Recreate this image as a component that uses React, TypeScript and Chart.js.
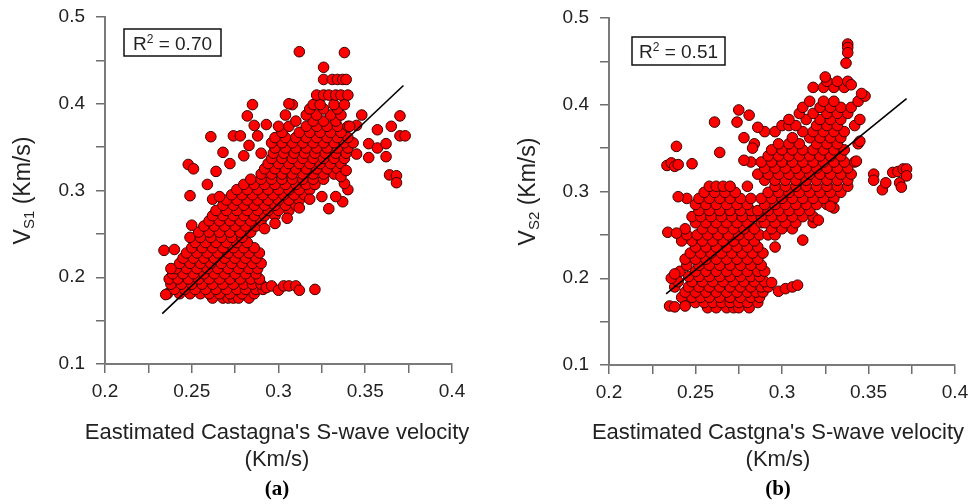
import React, { useEffect, useRef } from 'react';
import { Chart, registerables } from 'chart.js';
Chart.register(...registerables);

type Row = [number, number[]];
type Pt = [number, number];

// ---------------- Panel (a) data ----------------
const aDenseRows: Row[] = [
  [0.176, [0.262, 0.268, 0.271, 0.274, 0.277, 0.283]],
  [0.181, [0.236, 0.243, 0.249, 0.255, 0.26, 0.266, 0.272, 0.279, 0.286]],
  [0.186, [0.24, 0.246, 0.252, 0.258, 0.264, 0.27, 0.276, 0.281, 0.287, 0.291]],
  [0.192, [0.238, 0.244, 0.25, 0.256, 0.262, 0.268, 0.274, 0.28, 0.285, 0.29]],
  [0.198, [0.237, 0.242, 0.248, 0.254, 0.26, 0.266, 0.272, 0.278, 0.284, 0.289]],
  [0.204, [0.239, 0.245, 0.251, 0.257, 0.263, 0.269, 0.275, 0.281, 0.287]],
  [0.21, [0.241, 0.247, 0.253, 0.259, 0.265, 0.271, 0.277, 0.283, 0.288]],
  [0.216, [0.243, 0.249, 0.255, 0.261, 0.267, 0.273, 0.279, 0.285, 0.29]],
  [0.222, [0.245, 0.251, 0.257, 0.263, 0.269, 0.275, 0.281, 0.287]],
  [0.228, [0.247, 0.253, 0.259, 0.265, 0.271, 0.277, 0.283, 0.289]],
  [0.234, [0.25, 0.256, 0.262, 0.268, 0.274, 0.28, 0.286]],
  [0.24, [0.252, 0.258, 0.264, 0.27, 0.276, 0.282]],
  [0.246, [0.249, 0.255, 0.261, 0.267, 0.273, 0.279]],
  [0.252, [0.254, 0.26, 0.266, 0.272, 0.278, 0.284]],
  [0.259, [0.257, 0.263, 0.269, 0.275, 0.281, 0.287]],
  [0.265, [0.26, 0.266, 0.272, 0.278, 0.284, 0.29]],
  [0.271, [0.262, 0.268, 0.274, 0.28, 0.286, 0.292, 0.298]],
  [0.277, [0.264, 0.27, 0.276, 0.282, 0.288, 0.294, 0.3, 0.306]],
  [0.283, [0.268, 0.274, 0.28, 0.286, 0.292, 0.298, 0.304, 0.31]],
  [0.289, [0.27, 0.276, 0.282, 0.288, 0.294, 0.3, 0.306, 0.312]],
  [0.295, [0.273, 0.279, 0.285, 0.291, 0.297, 0.303, 0.309, 0.315]],
  [0.301, [0.276, 0.282, 0.288, 0.294, 0.3, 0.306, 0.312, 0.318]],
  [0.307, [0.28, 0.286, 0.292, 0.298, 0.304, 0.31, 0.316, 0.321]],
  [0.313, [0.284, 0.29, 0.296, 0.302, 0.308, 0.314, 0.32, 0.326]],
  [0.319, [0.29, 0.296, 0.302, 0.308, 0.314, 0.32, 0.326, 0.332]],
  [0.325, [0.292, 0.298, 0.304, 0.31, 0.316, 0.322, 0.328, 0.334]],
  [0.331, [0.294, 0.3, 0.306, 0.312, 0.318, 0.324, 0.33, 0.336]],
  [0.337, [0.296, 0.302, 0.308, 0.314, 0.32, 0.326, 0.332, 0.338]],
  [0.343, [0.297, 0.303, 0.309, 0.315, 0.321, 0.327, 0.333, 0.339]],
  [0.349, [0.298, 0.304, 0.31, 0.316, 0.322, 0.328, 0.334, 0.34]],
  [0.355, [0.296, 0.302, 0.308, 0.314, 0.32, 0.326, 0.332, 0.338, 0.343]],
  [0.361, [0.298, 0.304, 0.31, 0.316, 0.322, 0.328, 0.334, 0.34]],
  [0.367, [0.302, 0.312, 0.318, 0.324, 0.33, 0.336]],
  [0.374, [0.3, 0.306, 0.316, 0.322, 0.328, 0.334, 0.34]],
  [0.38, [0.31, 0.32, 0.326, 0.333]],
  [0.387, [0.304, 0.316, 0.322, 0.33, 0.336]],
  [0.394, [0.318, 0.326, 0.334]],
  [0.399, [0.308, 0.32, 0.324, 0.332, 0.338]],
  [0.41, [0.322, 0.326, 0.329, 0.333, 0.336, 0.34]],
  [0.428, [0.326, 0.331, 0.334, 0.337, 0.339]],
];
const aOutliers: Pt[] = [
  [0.312, 0.46], [0.338, 0.459], [0.326, 0.442],
  [0.285, 0.399], [0.306, 0.4], [0.282, 0.386], [0.286, 0.375], [0.293, 0.376], [0.288, 0.363],
  [0.261, 0.362], [0.274, 0.363], [0.278, 0.363],
  [0.248, 0.33], [0.251, 0.325], [0.264, 0.322], [0.249, 0.294], [0.259, 0.307], [0.262, 0.29],
  [0.266, 0.293], [0.268, 0.344], [0.272, 0.331], [0.28, 0.34], [0.283, 0.352], [0.29, 0.343],
  [0.348, 0.387], [0.357, 0.37], [0.365, 0.374], [0.37, 0.386], [0.37, 0.363], [0.373, 0.363],
  [0.352, 0.354], [0.352, 0.338], [0.357, 0.349], [0.362, 0.354], [0.362, 0.339], [0.364, 0.318],
  [0.368, 0.317], [0.368, 0.309], [0.345, 0.342], [0.345, 0.375], [0.341, 0.374],
  [0.329, 0.279], [0.325, 0.293], [0.337, 0.287], [0.333, 0.293], [0.34, 0.301], [0.338, 0.308],
  [0.336, 0.316], [0.339, 0.323],
  [0.312, 0.28], [0.318, 0.29], [0.305, 0.268], [0.298, 0.262], [0.292, 0.256],
  [0.293, 0.188], [0.296, 0.19], [0.3, 0.185], [0.303, 0.19], [0.306, 0.19], [0.31, 0.19],
  [0.312, 0.185], [0.321, 0.186],
  [0.234, 0.231], [0.24, 0.232], [0.235, 0.18], [0.238, 0.21], [0.25, 0.26],
];
const aFit: Pt[] = [[0.233, 0.158], [0.372, 0.421]];

// ---------------- Panel (b) data ----------------
const bDenseRows: Row[] = [
  [0.166, [0.257, 0.262, 0.268, 0.272, 0.275, 0.281]],
  [0.172, [0.245, 0.25, 0.255, 0.26, 0.265, 0.27, 0.275, 0.28, 0.286]],
  [0.178, [0.242, 0.248, 0.253, 0.258, 0.264, 0.27, 0.276, 0.282, 0.287]],
  [0.184, [0.244, 0.25, 0.256, 0.262, 0.268, 0.274, 0.28, 0.285, 0.289]],
  [0.19, [0.238, 0.246, 0.252, 0.258, 0.264, 0.27, 0.276, 0.282, 0.288, 0.292]],
  [0.196, [0.24, 0.248, 0.254, 0.26, 0.266, 0.272, 0.278, 0.284, 0.29]],
  [0.202, [0.246, 0.252, 0.258, 0.264, 0.27, 0.276, 0.282, 0.287]],
  [0.208, [0.241, 0.25, 0.256, 0.262, 0.268, 0.274, 0.28, 0.286, 0.29]],
  [0.215, [0.245, 0.252, 0.258, 0.264, 0.27, 0.276, 0.282, 0.288]],
  [0.222, [0.244, 0.25, 0.256, 0.262, 0.268, 0.274, 0.28, 0.286]],
  [0.229, [0.247, 0.253, 0.259, 0.265, 0.271, 0.277, 0.283, 0.289]],
  [0.236, [0.25, 0.256, 0.262, 0.268, 0.274, 0.28, 0.286]],
  [0.243, [0.242, 0.248, 0.254, 0.26, 0.266, 0.272, 0.278, 0.284]],
  [0.25, [0.245, 0.251, 0.257, 0.263, 0.269, 0.275, 0.281, 0.287]],
  [0.257, [0.244, 0.254, 0.26, 0.266, 0.272, 0.278, 0.284]],
  [0.264, [0.25, 0.256, 0.262, 0.268, 0.274, 0.28, 0.288]],
  [0.271, [0.248, 0.253, 0.259, 0.265, 0.271, 0.277, 0.283]],
  [0.278, [0.252, 0.258, 0.264, 0.27, 0.276, 0.282]],
  [0.285, [0.25, 0.256, 0.262, 0.268, 0.274, 0.28]],
  [0.292, [0.245, 0.252, 0.258, 0.264, 0.27, 0.276]],
  [0.299, [0.255, 0.261, 0.267, 0.273]],
  [0.306, [0.258, 0.262, 0.266, 0.27]],
  [0.25, [0.292, 0.296]],
  [0.257, [0.294, 0.3, 0.306]],
  [0.264, [0.29, 0.296, 0.302, 0.308, 0.318]],
  [0.271, [0.288, 0.294, 0.3, 0.306, 0.312, 0.318]],
  [0.278, [0.286, 0.292, 0.298, 0.304, 0.31, 0.316]],
  [0.285, [0.29, 0.296, 0.302, 0.308, 0.314, 0.32, 0.326]],
  [0.292, [0.282, 0.288, 0.294, 0.3, 0.306, 0.312, 0.318, 0.324, 0.33]],
  [0.299, [0.292, 0.298, 0.304, 0.31, 0.316, 0.322, 0.328, 0.334]],
  [0.306, [0.28, 0.296, 0.302, 0.308, 0.314, 0.32, 0.326, 0.332, 0.338]],
  [0.313, [0.29, 0.296, 0.302, 0.308, 0.314, 0.32, 0.326, 0.332, 0.338]],
  [0.32, [0.286, 0.292, 0.298, 0.304, 0.31, 0.316, 0.322, 0.328, 0.334, 0.34]],
  [0.327, [0.29, 0.296, 0.302, 0.308, 0.314, 0.32, 0.326, 0.332, 0.338]],
  [0.334, [0.282, 0.288, 0.294, 0.3, 0.306, 0.312, 0.318, 0.324, 0.33, 0.336, 0.342]],
  [0.341, [0.292, 0.298, 0.304, 0.31, 0.316, 0.322, 0.328, 0.334]],
  [0.348, [0.294, 0.3, 0.306, 0.312, 0.318, 0.324, 0.33, 0.336]],
  [0.355, [0.284, 0.298, 0.304, 0.31, 0.32, 0.326, 0.332, 0.344]],
  [0.362, [0.306, 0.316, 0.322, 0.328, 0.334]],
  [0.369, [0.29, 0.296, 0.312, 0.318, 0.324, 0.33, 0.336]],
  [0.376, [0.3, 0.304, 0.308, 0.32, 0.326, 0.332, 0.342]],
  [0.383, [0.304, 0.314, 0.322, 0.328, 0.334, 0.345]],
  [0.39, [0.31, 0.318, 0.326, 0.332, 0.338]],
  [0.397, [0.312, 0.322, 0.328, 0.334, 0.34]],
  [0.404, [0.316, 0.324, 0.33, 0.344]],
  [0.42, [0.318, 0.324, 0.33, 0.336]],
  [0.427, [0.326, 0.332, 0.338]],
];
const bOutliers: Pt[] = [
  [0.338, 0.47], [0.338, 0.466], [0.338, 0.46], [0.337, 0.448],
  [0.2335, 0.33], [0.236, 0.333], [0.238, 0.329], [0.24, 0.331], [0.239, 0.352], [0.248, 0.332],
  [0.261, 0.38], [0.264, 0.345], [0.275, 0.394], [0.274, 0.38], [0.281, 0.388],
  [0.353, 0.32], [0.353, 0.313], [0.358, 0.302], [0.36, 0.31], [0.364, 0.322], [0.367, 0.323],
  [0.368, 0.31], [0.37, 0.326], [0.372, 0.326], [0.369, 0.305], [0.372, 0.318],
  [0.312, 0.244], [0.296, 0.236], [0.321, 0.267], [0.33, 0.281], [0.328, 0.283],
  [0.298, 0.185], [0.302, 0.188], [0.306, 0.19], [0.309, 0.192], [0.294, 0.195],
  [0.235, 0.168], [0.238, 0.167], [0.244, 0.168],
  [0.234, 0.253], [0.239, 0.252], [0.24, 0.294], [0.236, 0.2], [0.238, 0.205],
  [0.278, 0.336], [0.283, 0.35], [0.278, 0.362], [0.286, 0.374],
  [0.345, 0.358], [0.343, 0.335], [0.348, 0.41], [0.346, 0.413], [0.34, 0.423], [0.325, 0.432],
];
const bFit: Pt[] = [[0.233, 0.182], [0.372, 0.407]];

const xTickLabels = ['0.2', '0.25', '0.3', '0.35', '0.4'];
const yTickLabels = ['0.1', '0.2', '0.3', '0.4', '0.5'];

const FONT = "'Liberation Sans', Arial, sans-serif";

function toPoints(rows: Row[], extra: Pt[]) {
  const out: { x: number; y: number }[] = [];
  rows.forEach(([y, xs]) => xs.forEach((x) => out.push({ x, y })));
  extra.forEach(([x, y]) => out.push({ x, y }));
  return out;
}

interface Spec {
  rows: Row[];
  extra: Pt[];
  fit: Pt[];
  r2: string;
  sub: string;
  xTitle: string[];
  tag: string;
  width: number;
  padTop: number;
  padRight: number;
  yW: number;
  xH: number;
  box: [number, number, number, number];
  yTitleX: number;
  xTitleCx: number;
}

function labelFor(v: number, list: string[]) {
  const s = String(+v.toFixed(3));
  return list.includes(s) ? s : '';
}

function Panel({ spec }: { spec: Spec }) {
  const ref = useRef<HTMLCanvasElement | null>(null);
  useEffect(() => {
    const canvas = ref.current!;
    const decor = {
      id: 'decor',
      afterDraw(chart: any) {
        const ctx = chart.ctx as CanvasRenderingContext2D;
        const ca = chart.chartArea;
        ctx.save();
        ctx.fillStyle = '#222';
        // Y title with subscript
        ctx.translate(spec.yTitleX, (ca.top + ca.bottom) / 2);
        ctx.rotate(-Math.PI / 2);
        ctx.textBaseline = 'alphabetic';
        ctx.textAlign = 'left';
        const big = `23px ${FONT}`;
        const small = `15px ${FONT}`;
        ctx.font = big;
        const wV = ctx.measureText('V').width;
        const wR = ctx.measureText(' (Km/s)').width;
        ctx.font = small;
        const wS = ctx.measureText(spec.sub).width;
        const x0 = -(wV + wS + wR) / 2;
        ctx.font = big;
        ctx.fillText('V', x0, 8);
        ctx.font = small;
        ctx.fillText(spec.sub, x0 + wV, 12);
        ctx.font = big;
        ctx.fillText(' (Km/s)', x0 + wV + wS, 8);
        ctx.restore();

        // X title (two lines)
        ctx.save();
        ctx.fillStyle = '#222';
        ctx.font = `22px ${FONT}`;
        ctx.textAlign = 'center';
        ctx.textBaseline = 'middle';
        ctx.fillText(spec.xTitle[0], spec.xTitleCx, 433);
        ctx.fillText(spec.xTitle[1], spec.xTitleCx, 460);
        ctx.restore();

        // R² box
        ctx.save();
        const [bx, by, bw, bh] = spec.box;
        ctx.strokeStyle = '#111';
        ctx.lineWidth = 1.5;
        ctx.strokeRect(bx, by, bw, bh);
        ctx.fillStyle = '#222';
        ctx.textBaseline = 'alphabetic';
        ctx.font = `19px ${FONT}`;
        const wRr = ctx.measureText('R').width;
        const rest = ` = ${spec.r2}`;
        const wRest = ctx.measureText(rest).width;
        ctx.font = `12px ${FONT}`;
        const w2 = ctx.measureText('2').width;
        const tx = bx + (bw - (wRr + w2 + wRest)) / 2;
        const ty = by + bh / 2 + 7;
        ctx.font = `19px ${FONT}`;
        ctx.fillText('R', tx, ty);
        ctx.font = `12px ${FONT}`;
        ctx.fillText('2', tx + wRr, ty - 7);
        ctx.font = `19px ${FONT}`;
        ctx.fillText(rest, tx + wRr + w2, ty);
        // panel tag
        ctx.font = `bold 21px 'Liberation Serif', 'Times New Roman', serif`;
        ctx.textAlign = 'center';
        ctx.textBaseline = 'middle';
        ctx.fillStyle = '#000';
        ctx.fillText(spec.tag, spec.xTitleCx, 490);
        ctx.restore();
      },
    };
    const chart = new Chart(canvas, {
      type: 'scatter',
      data: {
        datasets: [
          {
            type: 'line',
            data: spec.fit.map(([x, y]) => ({ x, y })),
            borderColor: '#000',
            borderWidth: 1.6,
            pointRadius: 0,
            fill: false,
            order: 0,
          } as any,
          {
            data: toPoints(spec.rows, spec.extra),
            backgroundColor: '#ff0000',
            borderColor: '#3a0000',
            borderWidth: 1,
            pointRadius: 5.3,
            order: 1,
          },
        ],
      },
      options: {
        animation: false,
        responsive: false,
        events: [],
        layout: { padding: { left: 0, top: spec.padTop, right: spec.padRight, bottom: 0 } },
        plugins: { legend: { display: false }, tooltip: { enabled: false } },
        scales: {
          x: {
            type: 'linear',
            min: 0.2,
            max: 0.4,
            afterFit: (s: any) => {
              s.height = spec.xH;
              s.paddingLeft = 0;
              s.paddingRight = 0;
            },
            ticks: {
              stepSize: 0.025,
              autoSkip: false,
              maxRotation: 0,
              padding: 7,
              color: '#222',
              font: { family: FONT, size: 19 },
              callback: (v: any) => labelFor(Number(v), xTickLabels),
            },
            grid: { display: true, drawOnChartArea: false, drawTicks: true, tickLength: 9, color: '#6e6e6e', lineWidth: 1.5 },
            border: { display: true, color: '#7a7a7a', width: 2 },
          },
          y: {
            type: 'linear',
            min: 0.1,
            max: 0.5,
            afterFit: (s: any) => {
              s.width = spec.yW;
              s.paddingTop = 0;
              s.paddingBottom = 0;
            },
            ticks: {
              stepSize: 0.05,
              autoSkip: false,
              padding: 11,
              color: '#222',
              font: { family: FONT, size: 19 },
              callback: (v: any) => labelFor(Number(v), yTickLabels),
            },
            grid: { display: true, drawOnChartArea: false, drawTicks: true, tickLength: 9, color: '#6e6e6e', lineWidth: 1.5 },
            border: { display: true, color: '#7a7a7a', width: 2 },
          },
        },
      },
      plugins: [decor],
    });
    return () => chart.destroy();
  }, [spec]);
  return <canvas ref={ref} width={spec.width} height={504} style={{ display: 'block', width: spec.width, height: 504 }} />;
}

const specA: Spec = {
  rows: aDenseRows,
  extra: aOutliers,
  fit: aFit,
  r2: '0.70',
  sub: 'S1',
  xTitle: ["Eastimated Castagna's S-wave velocity", '(Km/s)'],
  tag: '(a)',
  width: 490,
  padTop: 17,
  padRight: 38,
  yW: 105,
  xH: 140,
  box: [124, 29, 97, 27],
  yTitleX: 22,
  xTitleCx: 277,
};

const specB: Spec = {
  rows: bDenseRows,
  extra: bOutliers,
  fit: bFit,
  r2: '0.51',
  sub: 'S2',
  xTitle: ["Eastimated Castgna's S-wave velocity", '(Km/s)'],
  tag: '(b)',
  width: 489,
  padTop: 18,
  padRight: 24,
  yW: 119,
  xH: 139,
  box: [142, 37, 93, 28],
  yTitleX: 37,
  xTitleCx: 288,
};

export default function App() {
  return (
    <div style={{ position: 'fixed', left: 0, top: 0, width: 979, height: 504, background: '#fff', display: 'flex' }}>
      <Panel spec={specA} />
      <Panel spec={specB} />
    </div>
  );
}
